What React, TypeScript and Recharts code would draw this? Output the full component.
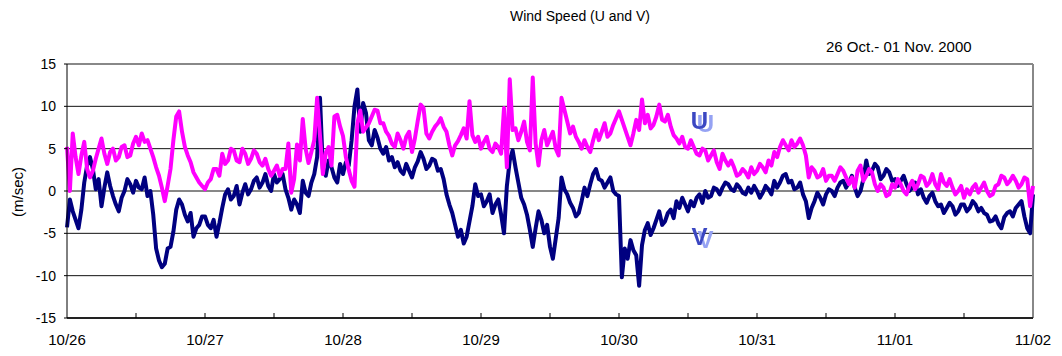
import { LineChart, Line, XAxis, YAxis, CartesianGrid, ReferenceLine, ReferenceDot } from "recharts";

// half-hourly samples, 26 Oct 00h .. 02 Nov 00h (one row per day)
const DAY_LABELS = ["10/26", "10/27", "10/28", "10/29", "10/30", "10/31", "11/01", "11/02"];
const Y_TICKS = [-15, -10, -5, 0, 5, 10, 15];

const U_SPEED = [
  5.2, 0.0, 6.8, 4.0, 2.0, 4.2, 5.8, 2.6, 1.6, 2.4, 3.8, 5.0, 6.2, 4.4, 3.2, 4.6, 5.0, 3.6, 4.0, 5.2, 5.4, 4.0, 4.2, 5.6,
  6.4, 5.4, 6.8, 5.8, 6.0, 5.0, 4.0, 2.8, 1.8, 0.4, -1.2, 0.6, 2.6, 6.0, 8.8, 9.4, 7.0, 5.2, 4.2, 3.4, 2.2, 1.6, 1.0, 0.6,
  0.2, 1.0, 1.4, 2.6, 2.6, 1.8, 4.4, 3.2, 3.6, 5.0, 4.8, 3.6, 3.4, 5.0, 4.4, 3.2, 3.8, 4.8, 4.4, 3.4, 3.0, 3.8, 2.6, 1.8,
  2.4, 3.0, 1.8, 2.6, 2.6, 5.6, -0.2, 1.4, 5.5, 3.6, 8.5, 5.0, 3.3, 4.6, 6.0, 11.0, 6.5, 2.0, 4.5, 5.2, 3.0, 8.8, 9.0, 7.6,
  6.5, 4.0, 2.5, 1.2, 0.5, 8.0, 9.5, 7.0, 7.5, 8.0, 8.8, 9.6, 9.5, 8.0, 8.0, 7.0, 6.5, 5.6, 5.2, 6.8, 6.0, 5.0, 6.4, 7.0,
  4.6, 6.2, 8.3, 10.2, 9.8, 6.8, 6.2, 7.0, 7.6, 8.0, 8.6, 7.6, 7.0, 5.4, 4.2, 5.4, 5.9, 6.6, 7.4, 6.2, 10.6, 6.6, 5.8, 6.4,
  5.0, 5.8, 6.4, 5.0, 4.6, 5.6, 5.2, 4.4, 9.8, 2.8, 13.2, 7.2, 7.4, 6.0, 7.0, 8.2, 5.8, 4.8, 13.4, 5.6, 3.0, 6.0, 7.2, 5.4,
  6.2, 7.0, 5.0, 4.2, 11.0, 9.6, 8.2, 6.8, 7.6, 6.4, 5.8, 5.0, 6.0, 5.2, 4.6, 6.0, 7.2, 6.0, 7.0, 8.0, 6.4, 6.8, 7.8, 8.6,
  9.4, 8.4, 7.4, 6.4, 5.4, 6.8, 8.4, 7.2, 10.8, 8.0, 9.0, 7.4, 7.8, 8.8, 10.2, 8.4, 8.2, 9.0, 7.6, 6.6, 6.2, 5.6, 6.4, 5.2,
  5.0, 6.0, 5.2, 4.4, 4.2, 5.0, 4.8, 3.6, 4.2, 4.8, 3.4, 2.6, 4.4, 3.6, 3.0, 3.6, 2.8, 1.8, 2.0, 2.6, 2.2, 1.6, 2.8, 2.0,
  2.4, 3.2, 2.8, 2.2, 3.6, 3.0, 4.6, 4.0, 5.2, 6.0, 5.4, 4.8, 6.0, 5.2, 5.6, 6.2, 5.4, 4.2, 1.6, 2.8, 2.4, 1.6, 1.8, 2.6,
  1.2, 1.8, 1.8, 1.2, 2.0, 2.8, 2.4, 1.6, 0.8, 1.6, 0.4, 2.4, 3.0, 1.2, 1.8, 2.6, 2.2, 0.8, 0.0, 0.8, 0.4, -0.6, -0.4, 0.8,
  0.4, 1.4, 0.8, 0.0, -0.4, 0.6, 1.2, 0.2, 0.8, 1.8, 1.6, 0.6, 1.0, 2.0, 0.8, 0.2, 2.0, 1.0, 0.6, 1.4, 0.4, -0.4, 0.0, 0.6,
  -0.8, 0.2, -0.4, 0.4, 0.8, -0.2, 0.4, 1.0, 0.0, -0.6, -0.4, 0.6, 0.8, 1.8, 1.6, 0.8, 1.2, 1.8, 1.2, 0.4, 0.8, 1.6, 1.4, -1.8,
  0.6,
];

const V_SPEED = [
  -4.3, -1.0, -2.4, -3.4, -4.4, -2.2, 1.0, 3.0, 4.0, 2.6, 0.2, 1.4, -1.8, 0.4, 2.2, 0.6, -0.6, -1.6, -2.4, -0.8, 0.0, 1.4, 0.8, -0.2,
  1.2, 0.4, 0.2, 1.6, -0.6, 0.0, -2.8, -6.8, -8.2, -9.0, -8.6, -6.8, -6.6, -4.8, -2.2, -1.0, -1.6, -2.8, -3.6, -2.6, -5.4, -4.4, -4.0, -3.0,
  -3.0, -4.0, -4.4, -3.4, -5.4, -3.8, -2.0, -0.4, 0.2, -1.0, -0.6, 0.6, -1.6, -0.2, 0.8, -0.4, 0.2, 1.2, 1.6, 0.4, 1.0, 2.0, 0.6, 0.0,
  2.0, 1.0, 1.4, 2.0, 0.2, -0.8, -2.2, -1.0, -1.6, -2.6, 1.2, -0.2, -0.6, 1.0, 2.0, 4.0, 11.0, 2.6, 1.8, 3.6, 2.8, 1.6, 1.0, 3.2,
  2.0, 3.4, 3.0, 6.0, 10.0, 12.0, 7.0, 10.4, 9.2, 6.0, 5.4, 7.2, 6.3, 5.0, 4.4, 5.2, 3.6, 4.0, 2.8, 3.4, 2.4, 2.0, 3.2, 2.4,
  1.6, 2.8, 3.5, 4.6, 3.8, 2.6, 3.0, 3.8, 3.6, 2.4, 2.6, 1.4, -0.4, -1.6, -2.6, -4.0, -5.4, -4.6, -6.2, -5.4, -3.6, -1.8, 0.8, -0.6,
  -0.4, -1.8, -1.2, -0.4, -2.6, -1.6, -1.0, -2.8, -5.0, 0.6, 3.6, 4.8, 2.8, 1.0, -0.8, -1.6, -2.8, -4.6, -6.6, -4.4, -2.4, -3.4, -5.0, -4.0,
  -6.6, -8.0, -5.6, -3.2, 1.6, 0.2, -0.4, -1.4, -2.0, -3.0, -2.6, -1.2, 0.4, -0.6, 0.8, 2.0, 2.6, 1.4, 1.2, 0.4, 1.0, 1.6, 0.0, -0.4,
  -0.6, -10.2, -6.8, -8.0, -5.8, -7.0, -7.6, -11.2, -6.4, -4.6, -3.8, -5.2, -4.4, -3.4, -2.4, -4.0, -3.6, -2.6, -2.2, -3.2, -1.2, -2.0, -0.8, -1.6,
  -2.4, -1.2, -1.8, -0.8, -0.4, -1.4, 0.0, -0.8, -0.6, 0.4, 0.2, -0.4, 0.4, 1.0, 0.8, 0.2, 0.0, 0.8, 0.4, -0.2, -0.4, 0.4, -0.2, 0.6,
  0.0, -0.8, -0.2, 0.6, 0.2, -0.4, 1.2, 0.4, 1.0, 1.8, 2.0, 1.0, 1.2, 0.2, 0.4, 1.0, -0.4, -1.2, -3.2, -2.0, -1.2, -0.2, -0.8, -1.6,
  -0.4, 0.2, 0.0, -0.6, 0.4, 1.0, 1.2, 0.4, 1.0, 1.8, 0.4, -0.6, 0.0, 1.4, 3.6, 2.0, 2.4, 3.2, 2.8, 1.4, 1.8, 2.6, 2.2, 1.2,
  1.4, 0.6, 1.2, 1.8, 0.8, 0.0, 0.4, 1.0, -0.4, 0.2, -0.8, -1.4, -0.6, -0.2, -1.2, -1.8, -1.6, -2.6, -2.0, -1.4, -1.8, -2.8, -2.4, -1.6,
  -1.6, -2.4, -2.0, -1.2, -1.6, -2.4, -2.0, -2.6, -2.8, -3.6, -3.5, -3.0, -3.9, -4.4, -3.1, -2.6, -2.4, -3.0, -2.0, -1.6, -1.2, -3.0, -4.4, -5.0,
  -0.4,
];

const data = U_SPEED.map((u, i) => ({ hour: i / 2, u, v: V_SPEED[i] }));
const HALF_DAYS = DAY_LABELS.flatMap((_, i) => (i < DAY_LABELS.length - 1 ? [i * 24, i * 24 + 12] : [i * 24]));

const FONT = "'Liberation Sans', Arial, sans-serif";

function DayTick({ x, y, payload }: any) {
  const h = payload.value as number;
  const label = h % 24 === 0 ? DAY_LABELS[h / 24] : "";
  return (
    <g>
      {h > 0 && h < 168 && <line x1={x} x2={x} y1={y} y2={y - 5} stroke="#000" />}
      {label && (
        <text x={x} y={y + 27} textAnchor="middle" fontSize={15} fill="#000" fontFamily={FONT}>
          {label}
        </text>
      )}
    </g>
  );
}

// letter with a pale offset copy behind it, done with a filter so it stays one text
function SeriesMark({ cx, cy, name }: any) {
  return (
    <g>
      <defs>
        <filter id={`ghost-${name}`} x="-50%" y="-50%" width="200%" height="200%">
          <feDropShadow dx={6} dy={3} stdDeviation={0} floodColor="#95a2f3" floodOpacity={1} />
        </filter>
      </defs>
      <text
        x={cx}
        y={cy}
        textAnchor="middle"
        fill="#3b47c2"
        filter={`url(#ghost-${name})`}
        style={{ fontSize: 24, fontWeight: 700, fontFamily: FONT }}
      >
        {name}
      </text>
    </g>
  );
}

export default function App() {
  return (
    <div style={{ position: "absolute", left: 0, top: 0, width: 1062, height: 356, background: "#fff", fontFamily: FONT, color: "#000" }}>
      <div style={{ position: "absolute", left: 0, width: 1160, top: 8, textAlign: "center", fontSize: 14 }}>
        Wind Speed (U and V)
      </div>
      <div style={{ position: "absolute", left: 826, top: 38, fontSize: 15 }}>26 Oct.- 01 Nov. 2000</div>
      <div
        style={{
          position: "absolute", left: 17, top: 192, fontSize: 15, whiteSpace: "nowrap",
          transform: "translate(-50%, -50%) rotate(-90deg)",
        }}
      >
        (m/sec)
      </div>
      <LineChart width={1062} height={356} data={data} margin={{ top: 64, right: 29, bottom: 0, left: 17 }}>
        <CartesianGrid horizontal vertical={false} stroke="#111" strokeWidth={1} />
        <XAxis
          dataKey="hour"
          type="number"
          domain={[0, 168]}
          ticks={HALF_DAYS}
          interval={0}
          height={38}
          tickSize={0}
          tickMargin={0}
          tickLine={false}
          axisLine={{ stroke: "#000", strokeWidth: 1.5 }}
          tick={<DayTick />}
        />
        <YAxis
          type="number"
          domain={[-15, 15]}
          ticks={Y_TICKS}
          interval={0}
          width={50}
          tickSize={3}
          tickMargin={8}
          axisLine={{ stroke: "#000" }}
          tickLine={{ stroke: "#000" }}
          tick={{ fontSize: 14, fill: "#000", fontFamily: FONT }}
        />
        <ReferenceLine y={15} stroke="#888" strokeWidth={2} />
        <ReferenceLine x={168} stroke="#888" strokeWidth={2} />
        <Line dataKey="v" stroke="#000080" strokeWidth={4} strokeLinejoin="round" dot={false} isAnimationActive={false} />
        <Line dataKey="u" stroke="#ff00ff" strokeWidth={4} strokeLinejoin="round" dot={false} isAnimationActive={false} />
        <ReferenceDot x={110} y={7.3} r={0} shape={(p: any) => <SeriesMark {...p} name="U" />} />
        <ReferenceDot x={110} y={-6.4} r={0} shape={(p: any) => <SeriesMark {...p} name="V" />} />
      </LineChart>
    </div>
  );
}
